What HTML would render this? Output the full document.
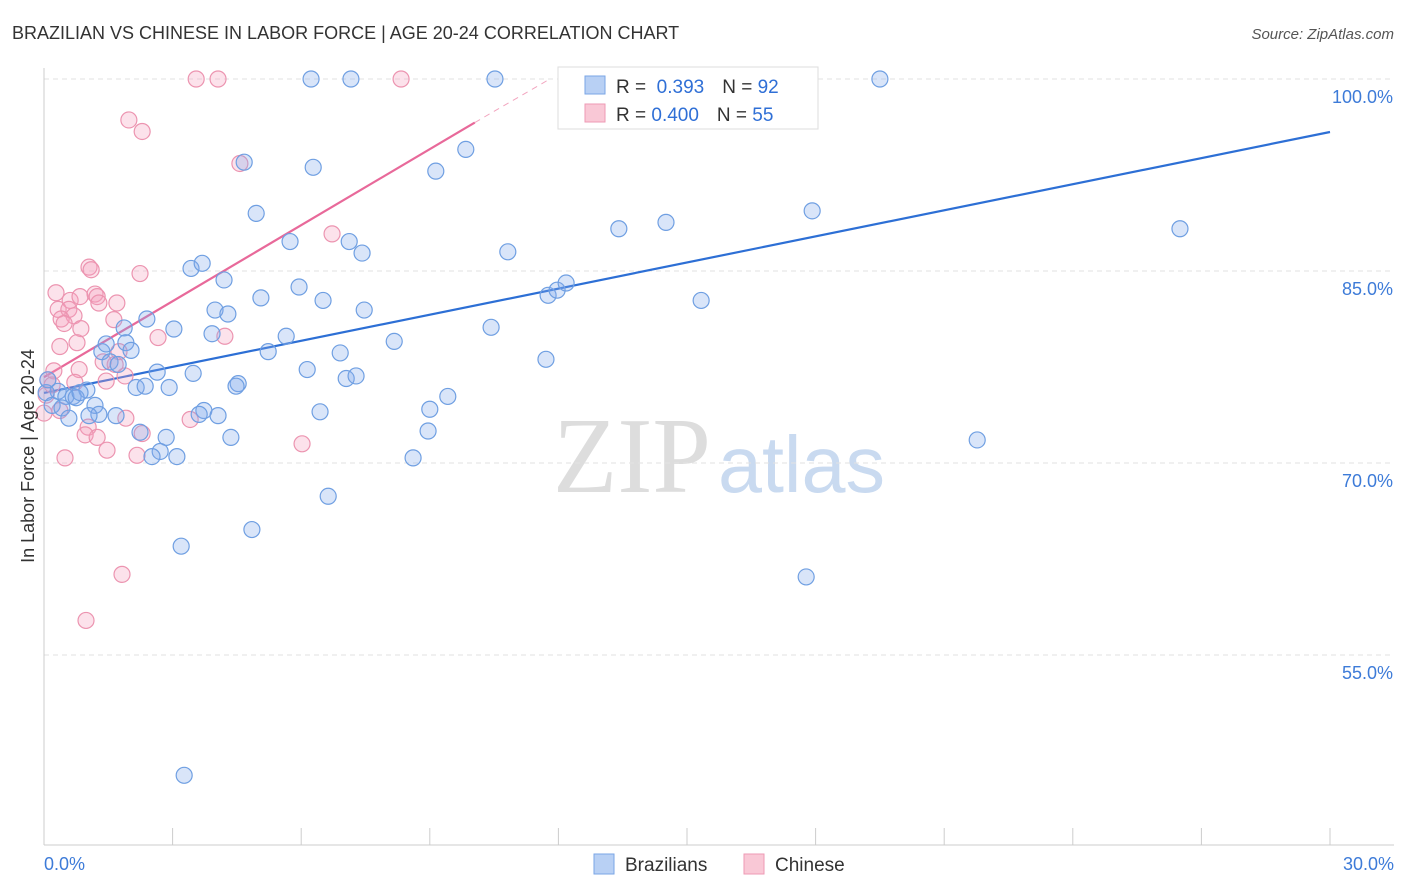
<!DOCTYPE html>
<html><head><meta charset="utf-8"><style>
body{margin:0;background:#fff;font-family:"Liberation Sans",sans-serif;}
svg{display:block}
</style></head><body>
<svg id="chart" width="1406" height="892">
<text x="12" y="39" font-size="18" fill="#333">BRAZILIAN VS CHINESE IN LABOR FORCE | AGE 20-24 CORRELATION CHART</text>
<text x="1394" y="39" font-size="15" fill="#555" font-style="italic" text-anchor="end">Source: ZipAtlas.com</text>
<g>
<text x="553" y="492" font-size="108" font-family="Liberation Serif,serif" fill="#ddd" textLength="158" lengthAdjust="spacingAndGlyphs">ZIP</text>
<text x="718" y="492" font-size="80" fill="#c9daf0" textLength="167" lengthAdjust="spacingAndGlyphs">atlas</text>
</g>
<g id="grid"></g><g id="axes"></g><g id="lines"></g><g id="pts"></g>
<text transform="translate(34,456) rotate(-90)" font-size="18" fill="#333" text-anchor="middle">In Labor Force | Age 20-24</text>
<g>
<rect x="558" y="67" width="260" height="62" fill="#fff" stroke="#ddd"/>
<rect x="585" y="76" width="20" height="18" fill="#b8d0f4" stroke="#7aa6e6"/>
<rect x="585" y="104" width="20" height="18" fill="#f9c8d6" stroke="#ee9ab4"/>
<text x="616" y="93" font-size="19" fill="#333">R = <tspan fill="#2f6fd6">&#160;0.393</tspan><tspan dx="18">N = </tspan><tspan fill="#2f6fd6">92</tspan></text>
<text x="616" y="121" font-size="19" fill="#333">R = <tspan fill="#2f6fd6">0.400</tspan><tspan dx="18">N = </tspan><tspan fill="#2f6fd6">55</tspan></text>
</g>
<g>
<rect x="594" y="854" width="20" height="20" fill="#b8d0f4" stroke="#7aa6e6"/>
<text x="625" y="871" font-size="19" fill="#333">Brazilians</text>
<rect x="744" y="854" width="20" height="20" fill="#f9c8d6" stroke="#ee9ab4"/>
<text x="775" y="871" font-size="19" fill="#333">Chinese</text>
</g>
</svg>
<script>
const xTicks=[0,3,6,9,12,15,18,21,24,27,30];
const yTicks=[55,70,85,100];
const blueX=[6.23,7.16,10.52,15.77,19.5,4.67,6.28,9.84,9.14,4.95,5.74,7.12,7.42,10.82,13.41,14.51,17.92,26.5,3.43,3.69,4.2,5.06,5.95,6.51,7.47,3.99,4.29,2.4,3.03,1.87,3.92,5.65,8.17,10.43,11.76,11.97,12.18,15.33,1.35,1.45,1.91,2.03,5.23,6.91,11.71,1.54,1.73,2.64,3.48,6.14,7.05,7.28,4.53,4.48,2.92,2.15,2.36,1.0,0.33,0.51,0.68,0.75,0.05,0.19,0.42,1.19,1.28,1.05,1.68,3.73,3.62,4.06,6.44,9.0,9.42,0.58,2.24,2.85,4.36,8.96,2.71,2.52,3.1,8.61,21.77,6.63,4.85,3.2,17.78,3.27,0.84,0.09];
const blueY=[100,100,100,100,100,93.5,93.1,94.5,92.8,89.5,87.3,87.3,86.4,86.5,88.3,88.8,89.7,88.3,85.2,85.6,84.3,82.9,83.75,82.7,81.95,81.95,81.64,81.25,80.47,80.55,80.1,79.9,79.5,80.6,83.1,83.5,84.06,82.7,78.7,79.3,79.4,78.8,78.7,78.6,78.1,77.9,77.7,77.1,77.0,77.3,76.6,76.8,76.2,76.0,75.9,75.9,76.0,75.7,75.6,75.2,75.2,75.1,75.5,74.5,74.3,74.5,73.8,73.7,73.7,74.1,73.8,73.7,74.0,74.2,75.2,73.5,72.4,72.0,72.0,72.5,70.9,70.5,70.5,70.4,71.8,67.4,64.8,63.5,61.1,45.6,75.5,76.5];
const pinkX=[3.55,4.06,8.33,1.98,2.29,4.57,6.72,1.05,1.1,2.24,0.28,0.61,1.19,1.24,0.84,1.7,1.28,0.33,0.58,0.7,0.4,0.47,0.86,1.63,4.22,2.66,0.37,0.77,1.75,1.66,1.38,0.23,0.82,1.89,1.45,0.72,0.09,0.19,0.05,0,0.37,3.41,1.91,1.03,0.96,1.24,2.29,6.02,1.47,2.17,0.49,1.82,0.98];
const pinkY=[100,100,100,96.8,95.9,93.4,87.9,85.3,85.1,84.8,83.3,82.7,83.2,83.0,83.0,82.5,82.5,82.0,82.0,81.5,81.25,80.9,80.5,81.2,79.9,79.8,79.1,79.4,78.7,77.7,77.9,77.2,77.3,76.8,76.4,76.3,76.5,76.1,75.3,73.9,74.1,73.4,73.5,72.8,72.2,72.0,72.3,71.5,71.0,70.6,70.4,61.3,57.7];
const blueLine=[[0,75.47],[30,95.86]];
const pinkLine=[[0,76.7],[10.05,96.6]];
const pinkDash=[[10.05,96.6],[11.8,100]];
const X=v=>44+v/30*1286, Y=v=>79+(100-v)*12.8;
const NS="http://www.w3.org/2000/svg";
function mk(tag,attrs,parent){const e=document.createElementNS(NS,tag);for(const k in attrs)e.setAttribute(k,attrs[k]);document.getElementById(parent).appendChild(e);return e;}
yTicks.forEach(t=>{
 const l=mk('line',{x1:44,x2:1394,y1:Y(t),y2:Y(t),stroke:'#e2e2e2','stroke-dasharray':'5,4'},'grid');
 
 
 const tx=mk('text',{x:1393,y:Y(t)+24,'font-size':18,fill:'#3d7bd8','text-anchor':'end'},'grid');
 tx.textContent=t.toFixed(1)+'%';
 
 
});
mk('line',{x1:44,x2:44,y1:68,y2:845,stroke:'#ccc'},'axes');
mk('line',{x1:44,x2:1394,y1:845,y2:845,stroke:'#ccc'},'axes');
xTicks.forEach(t=>{
 const l=mk('line',{x1:X(t),x2:X(t),y1:828,y2:845,stroke:'#ccc'},'axes');
 
 
});
[[0,'0.0%','start',44],[30,'30.0%','end',1394]].forEach(a=>{
 const tx=mk('text',{x:a[3],y:870,'font-size':18,fill:'#3d7bd8','text-anchor':a[2]},'axes');
 tx.textContent=a[1];
 
 
});
function pts(xs,ys,fill,stroke,name){xs.forEach((x,i)=>{
 const c=mk('circle',{cx:X(x),cy:Y(ys[i]),r:8,fill:fill,stroke:stroke,'stroke-width':1.2},'pts');
 
 
});}
pts(pinkX,pinkY,'rgba(244,160,188,0.3)','#ec94b0','chinese-point');
pts(blueX,blueY,'rgba(130,170,235,0.3)','#6f9fe2','brazilian-point');
function ln(d,col,dash,name){
 const l=mk('line',{x1:X(d[0][0]),y1:Y(d[0][1]),x2:X(d[1][0]),y2:Y(d[1][1]),stroke:col,'stroke-width':dash?1:2.2,'stroke-dasharray':dash||'none'},'lines');
 
 
}
ln(blueLine,'#2d6fd5',null,'brazilians-trendline');
ln(pinkLine,'#e8699a',null,'chinese-trendline');
ln(pinkDash,'#f2a5bf','6,5','chinese-trendline-extension');
</script>
</body></html>
